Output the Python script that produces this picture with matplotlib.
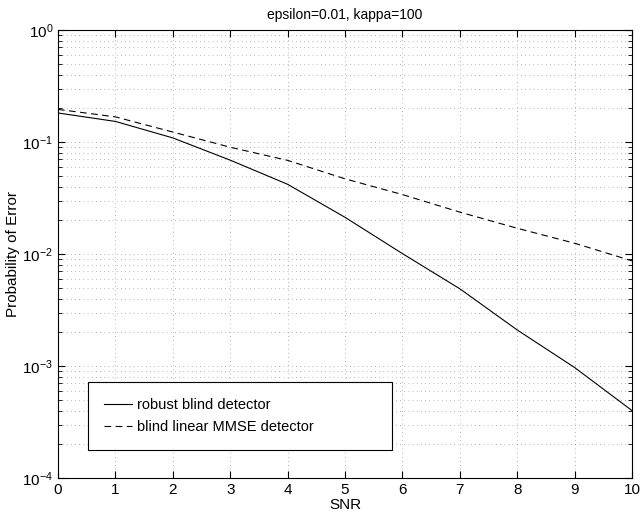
import matplotlib
matplotlib.use("Agg")
import matplotlib.pyplot as plt
import numpy as np
from matplotlib.ticker import LogLocator, NullFormatter

plt.rcParams['font.family'] = ['Liberation Sans', 'DejaVu Sans']

snr = [0, 1, 2, 3, 4, 5, 6, 7, 8, 9, 10]
robust = [0.182, 0.153, 0.109, 0.069, 0.042, 0.0213, 0.0101, 0.0049, 0.0021, 0.00097, 0.00040]
mmse = [0.196, 0.168, 0.123, 0.090, 0.0687, 0.047, 0.034, 0.0237, 0.017, 0.0125, 0.0087]
labels = ["robust blind detector", "blind linear MMSE detector"]
title = "epsilon=0.01, kappa=100"

fig = plt.figure(figsize=(6.41, 5.16), dpi=100)
ax = fig.add_axes([0.0905, 0.0736, 0.8955, 0.868])
ax.plot(snr, robust, color='black', lw=0.8, ls='-', label=labels[0])
ax.plot(snr, mmse, color='black', lw=0.8, ls=(0, (6, 4)), label=labels[1])
ax.set_yscale('log')
ax.set_xlim(0, 10)
ax.set_ylim(1e-4, 1)
ax.set_xticks(range(11))
ax.yaxis.set_major_locator(LogLocator(base=10, numticks=10))
ax.yaxis.set_minor_locator(LogLocator(base=10, subs=np.arange(2, 10), numticks=20))
ax.yaxis.set_minor_formatter(NullFormatter())
ax.grid(True, which='major', ls=(0, (1, 5)), color='black', lw=0.5, alpha=0.55)
ax.grid(True, which='minor', axis='y', ls=(0, (1, 5)), color='black', lw=0.5, alpha=0.55)
ax.tick_params(which='both', direction='in', top=True, right=True, labelsize=11)
ax.tick_params(which='major', length=5)
ax.tick_params(which='minor', length=3)
for s in ax.spines.values():
    s.set_linewidth(0.8)
ax.set_xlabel("SNR", fontsize=11, labelpad=1)
ax.set_ylabel("Probability of Error", fontsize=11, labelpad=2)
ax.set_title(title, fontsize=10, pad=8)
leg = ax.legend(loc='lower left', bbox_to_anchor=(0.052, 0.0625, 0.53, 0.15), mode='expand',
                fancybox=False, framealpha=1, edgecolor='black', fontsize=10.5,
                handlelength=1.9, handletextpad=0.4, borderpad=1.1, labelspacing=0.55,
                borderaxespad=0)
leg.get_frame().set_linewidth(0.8)
fig.savefig("out.png", dpi=100)
